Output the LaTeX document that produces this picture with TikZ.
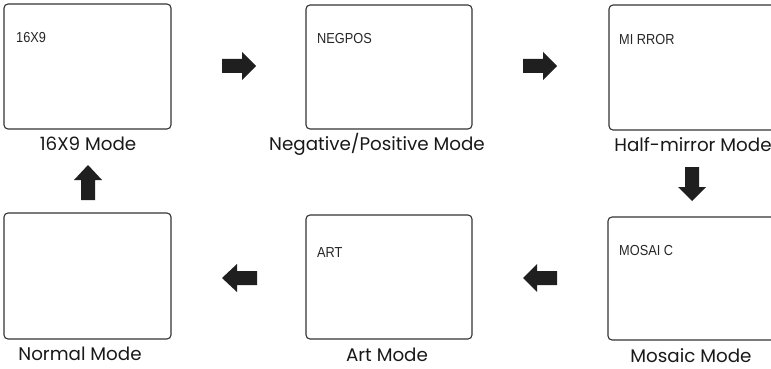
\documentclass[tikz,border=0pt]{standalone}
\usepackage{fontspec}
\setmainfont{Poppins}
\newfontfamily\lcdfont[FakeStretch=0.88]{Liberation Sans}
\begin{document}
\begin{tikzpicture}[x=1pt,y=-1pt,
  screen/.style={draw=black!80, line width=1.1pt, rounded corners=4pt, fill=white},
  lcd/.style={anchor=west, inner sep=0pt, font=\lcdfont\fontsize{14.5}{14.5}\selectfont, text=black!85},
  caption/.style={inner sep=0pt, font=\fontsize{18.3}{20}\selectfont, text=black!90},
  blockarrow/.style={fill=black!88, draw=none}]
\clip (0,0) rectangle (771,369);
\fill[white] (0,0) rectangle (771,369);

% screens
\draw[screen] (4,4) rectangle (171,129);
\draw[screen] (306,5) rectangle (472,129);
\draw[screen] (609,5) rectangle (820,130);
\draw[screen] (4,213) rectangle (171,339);
\draw[screen] (306,215) rectangle (472,339);
\draw[screen] (608,217) rectangle (820,340);

% screen texts
\node[lcd] (t1) at (16,38) {16X9};
\node[lcd] (t2) at (317,39) {NEGPOS};
\node[lcd] (t3) at (619,40) {MI RROR};
\node[lcd] (t5) at (317,253) {ART};
\node[lcd] (t6) at (619,251) {MOSAI C};

% captions
\node[caption] (c1) at (88,144) {16X9 Mode};
\node[caption] (c2) at (377,144) {Negative/Positive Mode};
\node[caption] (c3) at (693,145) {Half-mirror Mode};
\node[caption] (c4) at (80,354) {Normal Mode};
\node[caption] (c5) at (387,355) {Art Mode};
\node[caption] (c6) at (691,356) {Mosaic Mode};

% block arrows
\fill[blockarrow] (222,59) -- (242,59) -- (242,52) -- (256,66) -- (242,80) -- (242,73) -- (222,73) -- cycle;
\fill[blockarrow] (523,59) -- (543,59) -- (543,52) -- (557,66) -- (543,80) -- (543,73) -- (523,73) -- cycle;
\fill[blockarrow] (685,167) -- (685,187) -- (678,187) -- (692,201) -- (706,187) -- (699,187) -- (699,167) -- cycle;
\fill[blockarrow] (557,271) -- (537,271) -- (537,264) -- (523,278) -- (537,292) -- (537,285) -- (557,285) -- cycle;
\fill[blockarrow] (257,271) -- (237,271) -- (237,264) -- (222,278) -- (237,292) -- (237,285) -- (257,285) -- cycle;
\fill[blockarrow] (81,200) -- (81,180) -- (74,180) -- (88,165) -- (102,180) -- (95,180) -- (95,200) -- cycle;
\end{tikzpicture}
\end{document}
